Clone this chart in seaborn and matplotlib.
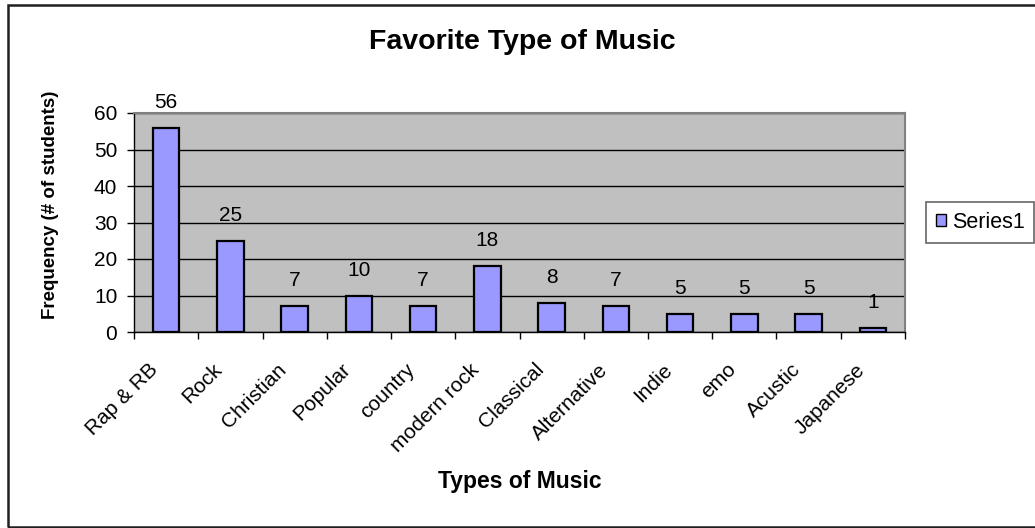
import matplotlib
matplotlib.use("Agg")
import matplotlib.pyplot as plt
import matplotlib.transforms as mtransforms
import seaborn as sns
import numpy as np
import pandas as pd
from matplotlib.patches import Rectangle, Patch

categories = ["Rap & RB", "Rock", "Christian", "Popular", "country", "modern rock",
              "Classical", "Alternative", "Indie", "emo", "Acustic", "Japanese"]
values = [56, 25, 7, 10, 7, 18, 8, 7, 5, 5, 5, 1]
yticks = [0, 10, 20, 30, 40, 50, 60]

sns.set_theme(style="white")
plt.rcParams['font.family'] = ['Liberation Sans', 'DejaVu Sans']
plt.rcParams['text.color'] = 'black'
plt.rcParams['axes.labelcolor'] = 'black'
plt.rcParams['xtick.color'] = 'black'
plt.rcParams['ytick.color'] = 'black'

W, H = 1035, 528
fig = plt.figure(figsize=(W/100, H/100), dpi=100)
ax = fig.add_axes([134/W, 1-332/H, (905-134)/W, (332-113)/H])

df = pd.DataFrame({"cat": categories, "val": values})
sns.barplot(data=df, x="cat", y="val", ax=ax, color="#9999FF", width=0.41,
            edgecolor="black", linewidth=1.6, saturation=1)

ax.set_facecolor("#C0C0C0")
ax.set_ylim(0, 60)
ax.set_xlim(-0.5, len(categories)-0.5)
ax.set_yticks(yticks)
ax.set_yticklabels([str(t) for t in yticks], fontsize=15)
ax.yaxis.grid(True, color="black", linewidth=1)
ax.set_axisbelow(True)

ax.set_xticks(range(len(categories)))
ax.set_xticklabels(categories, rotation=45, ha="right", va="center",
                   rotation_mode="anchor", fontsize=15)
ax.tick_params(axis="x", which="major", length=0, pad=25)
shift = mtransforms.ScaledTranslation(-11/100, 0, fig.dpi_scale_trans)
for lab in ax.get_xticklabels():
    lab.set_transform(lab.get_transform() + shift)
ax.set_xticks(np.arange(-0.5, len(categories), 1), minor=True)
ax.tick_params(axis="x", which="minor", length=5, width=1, color="black", direction="out", bottom=True)
ax.tick_params(axis="y", length=5, width=1, color="black", direction="out", left=True, pad=7)

for s in ["right", "top"]:
    ax.spines[s].set_color("#808080")
    ax.spines[s].set_linewidth(1.5)
ax.spines["bottom"].set_color("black")
ax.spines["bottom"].set_linewidth(1)
ax.spines["left"].set_color("black")
ax.spines["left"].set_linewidth(1)

for i, v in enumerate(values):
    ax.annotate(str(v), (i, v), xytext=(0, 14.4), textcoords="offset points",
                ha="center", va="baseline", fontsize=15)

ax.set_xlabel("Types of Music", fontsize=16.5, fontweight="bold")
ax.xaxis.set_label_coords(0.5, -(488-332)/219, transform=ax.transAxes)
ax.xaxis.label.set_va("baseline")
ax.set_ylabel("Frequency (# of students)", fontsize=13.5, fontweight="bold")
ax.yaxis.set_label_coords(-(134-50)/771, 0.5 - ((92+318)/2 - (113+332)/2)/219, transform=ax.transAxes)
ax.yaxis.label.set_va("center")

fig.text(522/W, 1-49/H, "Favorite Type of Music", fontsize=20.5, fontweight="bold",
         ha="center", va="baseline")

leg = fig.legend(handles=[Patch(facecolor="#9999FF", edgecolor="black", label="Series1")],
                 loc="center left", bbox_to_anchor=(926/W, 1-242/H, (1034-926)/W, 39/H),
                 mode="expand", fontsize=15.5,
                 frameon=True, fancybox=False, edgecolor="#404040", handlelength=0.5,
                 handleheight=0.5, handletextpad=0.25, borderpad=0.45, borderaxespad=0)
leg.get_frame().set_linewidth(1.2)

fig.patches.append(Rectangle((8/W, 1/H), 1040/W, 522/H, transform=fig.transFigure,
                             fill=False, edgecolor="#202020", linewidth=1.8, clip_on=False))

fig.savefig("out.png", dpi=100, facecolor="white")
